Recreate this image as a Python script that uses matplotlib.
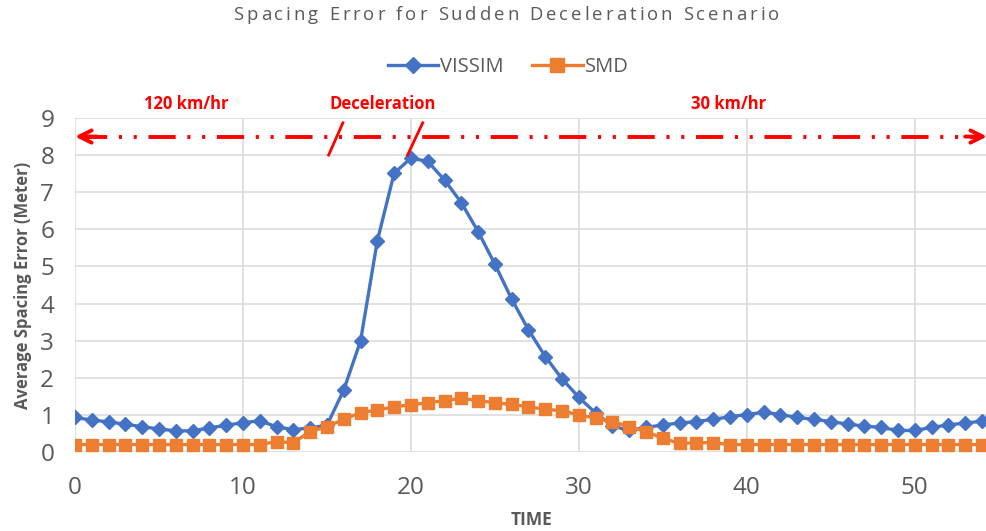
import matplotlib
matplotlib.use("Agg")
from matplotlib import pyplot as plt

time = list(range(55))
vissim = [0.93, 0.86, 0.81, 0.75, 0.68, 0.62, 0.57, 0.57, 0.65, 0.72,
          0.79, 0.84, 0.68, 0.60, 0.65, 0.72, 1.67, 2.99, 5.69, 7.51,
          7.92, 7.83, 7.33, 6.72, 5.94, 5.06, 4.12, 3.29, 2.57, 1.97,
          1.47, 1.05, 0.70, 0.58, 0.66, 0.73, 0.78, 0.82, 0.88, 0.95,
          1.01, 1.07, 1.01, 0.93, 0.88, 0.82, 0.75, 0.70, 0.66, 0.58,
          0.58, 0.66, 0.73, 0.78, 0.83]
smd = [0.20, 0.20, 0.20, 0.20, 0.20, 0.20, 0.20, 0.20, 0.20, 0.20,
       0.20, 0.20, 0.28, 0.25, 0.55, 0.68, 0.88, 1.06, 1.13, 1.22,
       1.27, 1.33, 1.38, 1.45, 1.38, 1.33, 1.28, 1.22, 1.15, 1.11,
       1.00, 0.91, 0.82, 0.68, 0.55, 0.37, 0.23, 0.25, 0.25, 0.20,
       0.20, 0.20, 0.20, 0.20, 0.20, 0.20, 0.20, 0.20, 0.20, 0.20,
       0.20, 0.20, 0.20, 0.20, 0.20]
xticks = [0, 10, 20, 30, 40, 50]
yticks = list(range(10))
phases = ["120 km/hr", "Deceleration", "30 km/hr"]
phase_x = [6.6, 18.3, 38.9]
title = "Spacing Error for Sudden Deceleration Scenario"

gray = "#595959"
red = "#FF0000"
plt.rcParams['font.family'] = ['Open Sans', 'DejaVu Sans']

fig = plt.figure(figsize=(9.87, 5.31), dpi=100)
ax = fig.add_axes([0.076, 0.1488, 0.924, 0.629])

ax.plot(time, vissim, color="#4472C4", lw=2.4, marker="D", markersize=7.5,
        label="VISSIM", zorder=3)
ax.plot(time, smd, color="#ED7D31", lw=2.4, marker="s", markersize=9,
        label="SMD", zorder=4)

ax.set_xlim(0, 54.3)
ax.set_ylim(0, 9)
ax.set_xticks(xticks)
ax.set_yticks(yticks)
ax.tick_params(length=0, labelsize=17.5, labelcolor=gray)
ax.tick_params(axis="y", pad=15)
ax.tick_params(axis="x", pad=17)
ax.grid(True, color="#D9D9D9", lw=1.1)
ax.set_axisbelow(True)
for s in ax.spines.values():
    s.set_visible(False)

# phase annotations
xr = 54.3
ax.plot([0.3, xr - 0.3], [8.5, 8.5], color=red, lw=2.8,
        dashes=(7, 3, 0.8, 3, 0.8, 3), clip_on=False, zorder=5)
ax.annotate("", xy=(0, 8.5), xytext=(1.3, 8.5), annotation_clip=False,
            arrowprops=dict(arrowstyle="->", color=red, lw=2.8,
                            mutation_scale=22, shrinkA=0, shrinkB=0))
ax.annotate("", xy=(xr, 8.5), xytext=(xr - 1.3, 8.5), annotation_clip=False,
            arrowprops=dict(arrowstyle="->", color=red, lw=2.8,
                            mutation_scale=22, shrinkA=0, shrinkB=0))
ax.plot([15.1, 15.95], [8.0, 8.87], color=red, lw=2, zorder=5)
ax.plot([19.8, 20.7], [8.0, 8.87], color=red, lw=2, zorder=5, clip_on=False)
for lab, px in zip(phases, phase_x):
    ax.text(px, 9.38, lab, color=red, fontsize=12, fontweight="bold",
            ha="center", va="center")

ax.set_xlabel("TIME", fontsize=12.5, fontweight="bold", color=gray, labelpad=8)
ax.set_ylabel("Average Spacing Error (Meter)", fontsize=12,
              fontweight="bold", color=gray, labelpad=6)

# title with wide letter spacing, drawn one character at a time
fig.canvas.draw()
rend = fig.canvas.get_renderer()
track = 3.0  # extra pixels between characters
pieces = []
total = 0.0
for ch in title:
    t = fig.text(0, 0, ch, fontsize=13.3, color=gray, va="center")
    w = t.get_window_extent(rend).width
    if ch == " ":
        w = 13.3 * 100 / 72 * 0.26
    pieces.append((t, w))
    total += w + track
total -= track
x0 = (506 - total / 2)
for t, w in pieces:
    t.set_position((x0 / 987, 0.972))
    x0 += w + track

fig.legend(loc="center", bbox_to_anchor=(0.515, 0.874), ncol=2,
           frameon=False, fontsize=14.5, handlelength=2.5, markerscale=1.1,
           columnspacing=1.4, handletextpad=0.1, labelcolor=gray)

fig.savefig("out.png", dpi=100)
